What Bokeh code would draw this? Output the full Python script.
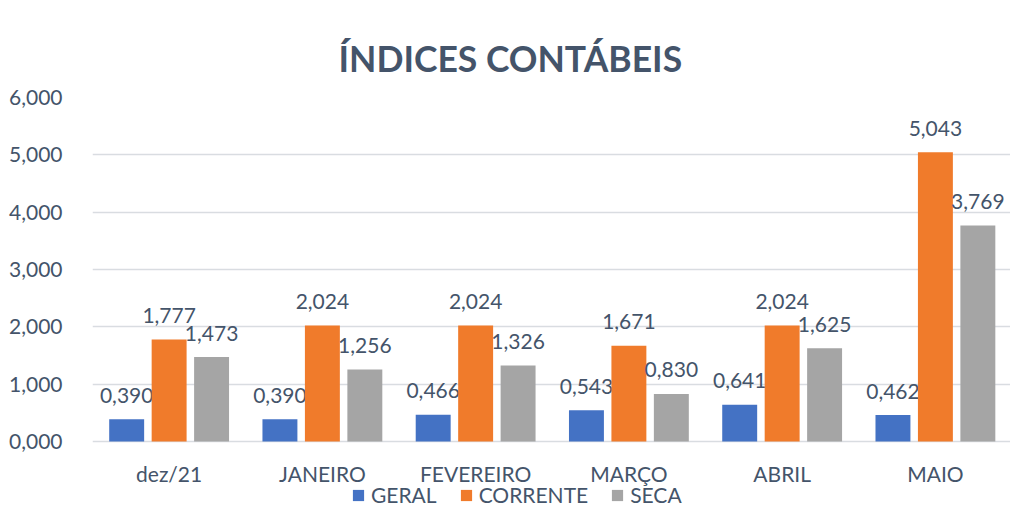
from bokeh.plotting import figure
from bokeh.models import ColumnDataSource, Legend, LegendItem, FixedTicker
from bokeh.transform import dodge
from bokeh.core.properties import value
from bokeh.embed import file_html
from bokeh.resources import INLINE

# ---- data ----
categories = ["dez/21", "JANEIRO", "FEVEREIRO", "MARÇO", "ABRIL", "MAIO"]
geral = [0.390, 0.390, 0.466, 0.543, 0.641, 0.462]
corrente = [1.777, 2.024, 2.024, 1.671, 2.024, 5.043]
seca = [1.473, 1.256, 1.326, 0.830, 1.625, 3.769]
series_names = ["GERAL", "CORRENTE", "SECA"]
y_ticks = [0, 1, 2, 3, 4, 5, 6]
y_tick_labels = ["0,000", "1,000", "2,000", "3,000", "4,000", "5,000", "6,000"]
title_text = "ÍNDICES CONTÁBEIS"

FONT = "Lato"
TXT = "#44546A"
FS = "21px"
colors = ["#4472C4", "#F07B2B", "#A5A5A5"]


def fmt(v):
    return f"{v:.3f}".replace(".", ",")


xs = list(range(len(categories)))
src = ColumnDataSource(dict(
    x=xs,
    base=[0] * len(xs),
    cat=categories,
    geral=geral, corrente=corrente, seca=seca,
    geral_l=[fmt(v) for v in geral],
    corrente_l=[fmt(v) for v in corrente],
    seca_l=[fmt(v) for v in seca],
))

# frame spans from the 6,000 gridline down to the legend row, so that the
# category labels and the legend (drawn below the zero line) are not clipped
p = figure(width=1010, height=529, x_range=(-0.5, 5.49), y_range=(-1.378, 6),
           output_backend="svg", toolbar_location=None,
           min_border_left=92, min_border_right=0, min_border_top=97,
           min_border_bottom=9)
p.outline_line_color = None
p.background_fill_color = "white"
p.border_fill_color = "white"

p.title.text = title_text
p.title.align = "left"
p.title.offset = 246
p.title.standoff = 35
p.title.text_font = FONT
p.title.text_font_size = "35.5px"
p.title.text_font_style = "bold"
p.title.text_color = TXT

off = 0.277
bw = 0.228
keys = ["geral", "corrente", "seca"]
offsets = [-off, 0.0, off]
renderers = []
for k, o, c in zip(keys, offsets, colors):
    r = p.vbar(x=dodge("x", o, range=p.x_range), top=k, width=bw, bottom=0,
               source=src, fill_color=c, line_color=None)
    renderers.append(r)
    p.text(x=dodge("x", o, range=p.x_range), y=k, text=k + "_l", source=src,
           text_align="center", text_baseline="middle", y_offset=-24,
           text_font=value(FONT), text_font_size=FS, text_color=TXT)

# category labels below the zero line
p.text(x="x", y="base", text="cat", source=src, text_align="center",
       text_baseline="middle", y_offset=32,
       text_font=value(FONT), text_font_size=FS, text_color=TXT)

# axes
p.yaxis.ticker = FixedTicker(ticks=y_ticks)
p.yaxis.major_label_overrides = dict(zip(y_ticks, y_tick_labels))
p.yaxis.axis_line_color = None
p.yaxis.major_tick_line_color = None
p.yaxis.minor_tick_line_color = None
p.yaxis.major_label_text_font = FONT
p.yaxis.major_label_text_font_size = FS
p.yaxis.major_label_text_color = TXT
p.yaxis.major_label_standoff = 24
p.xaxis.visible = False

p.xgrid.grid_line_color = None
p.ygrid.grid_line_color = "#D9DCE1"
p.ygrid.grid_line_width = 1.5

legend = Legend(
    items=[LegendItem(label=n, renderers=[r]) for n, r in zip(series_names, renderers)],
    orientation="horizontal", location=(259, 13),
    glyph_width=14, glyph_height=14, label_standoff=6, spacing=22,
    padding=0, margin=0, border_line_color=None, background_fill_alpha=0,
    label_text_font=FONT, label_text_font_size=FS, label_text_color=TXT,
)
p.add_layout(legend, "center")

open("out.html", "w").write(file_html(p, INLINE))
